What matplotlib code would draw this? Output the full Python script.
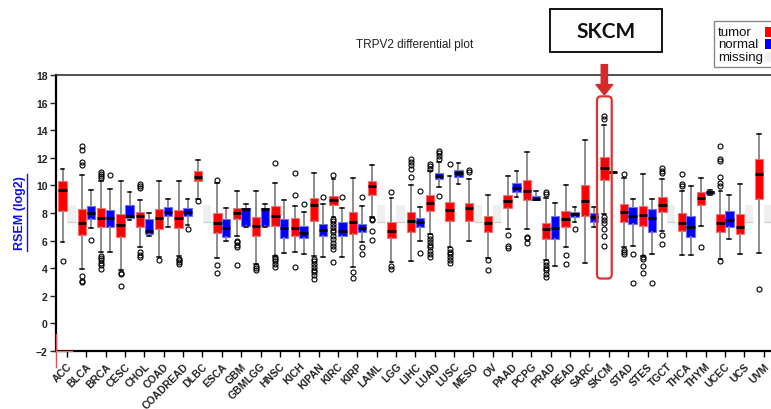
import numpy as np
import matplotlib
matplotlib.use('Agg')
import matplotlib.pyplot as plt
from matplotlib.patches import Rectangle, FancyBboxPatch
from matplotlib.lines import Line2D

plt.rcParams['font.family'] = ['Liberation Sans', 'DejaVu Sans']

cancers = ['ACC', 'BLCA', 'BRCA', 'CESC', 'CHOL', 'COAD', 'COADREAD', 'DLBC', 'ESCA',
           'GBM', 'GBMLGG', 'HNSC', 'KICH', 'KIPAN', 'KIRC', 'KIRP', 'LAML', 'LGG',
           'LIHC', 'LUAD', 'LUSC', 'MESO', 'OV', 'PAAD', 'PCPG', 'PRAD', 'READ', 'SARC',
           'SKCM', 'STAD', 'STES', 'TGCT', 'THCA', 'THYM', 'UCEC', 'UCS', 'UVM']

# tumor boxes (RSEM log2)
tumor_q1 = [8.17, 6.40, 6.96, 6.24, 6.96, 6.84, 6.89, 10.29, 6.52, 7.56, 6.30, 7.03, 6.35,
            7.40, 8.58, 6.48, 9.30, 6.16, 6.60, 8.17, 7.44, 7.44, 6.60, 8.33, 8.96, 6.11,
            6.96, 7.80, 10.41, 7.37, 7.08, 8.09, 6.72, 8.58, 6.60, 6.48, 9.01]
tumor_med = [9.69, 7.25, 7.61, 7.13, 7.76, 7.66, 7.64, 10.58, 7.25, 7.97, 7.03, 7.76, 6.94,
             8.58, 8.94, 7.32, 9.93, 6.72, 7.39, 8.75, 8.20, 8.33, 7.25, 8.89, 9.61, 6.84,
             7.56, 8.89, 11.26, 8.04, 7.85, 8.58, 7.27, 9.06, 7.25, 6.96, 10.83]
tumor_q3 = [10.30, 8.29, 8.34, 7.93, 8.04, 8.29, 8.24, 11.06, 7.97, 8.34, 7.68, 8.48, 7.66,
            9.11, 9.26, 8.09, 10.34, 7.32, 8.04, 9.28, 8.82, 8.70, 7.80, 9.30, 10.39, 7.27,
            8.17, 10.05, 12.08, 8.65, 8.53, 9.13, 7.97, 9.49, 7.90, 7.90, 11.91]
tumor_lo = [5.87, 3.92, 5.15, 3.90, 5.50, 4.78, 4.86, 9.00, 4.71, 6.35, 4.30, 4.90, 5.20,
            4.86, 7.68, 4.06, 7.68, 4.42, 4.50, 6.48, 5.51, 6.00, 4.71, 6.84, 6.84, 4.62,
            5.51, 4.37, 7.90, 5.52, 4.90, 6.72, 4.98, 7.06, 4.67, 5.02, 5.09]
tumor_hi = [11.20, 10.78, 10.30, 10.31, 8.92, 10.31, 10.31, 11.86, 10.20, 9.62, 9.62, 10.17,
            8.48, 10.87, 10.46, 10.50, 11.47, 9.06, 10.03, 11.05, 10.65, 10.46, 9.33, 10.70,
            12.39, 9.06, 10.02, 13.31, 14.37, 10.50, 10.80, 10.46, 9.62, 10.52, 9.62, 10.12,
            13.72]
tumor_out = [[4.52],
             [12.83, 12.59, 11.70, 11.47, 3.40, 3.10, 2.98],
             [10.97, 10.85, 10.70, 10.50, 4.90, 4.75, 4.60, 4.40, 4.20, 3.95],
             [3.65, 3.55, 2.73],
             [10.10, 9.98, 9.78, 5.15, 4.95, 4.80],
             [4.57],
             [4.70, 4.57, 4.43, 4.30],
             [8.87],
             [10.39, 4.25, 3.65],
             [6.00, 5.87, 5.70, 5.54, 4.25],
             [4.18, 4.00, 3.90],
             [11.60, 4.80, 4.65, 4.50, 4.30, 4.10],
             [10.90, 9.30, 4.06],
             [4.67, 4.50, 4.30, 4.10, 3.90, 3.70, 3.50, 3.20],
             [10.72, 7.55, 7.40, 7.20, 7.00, 6.80, 6.60, 6.35, 6.10, 5.85, 5.60, 5.40, 4.43],
             [3.72, 3.27],
             [7.60, 7.50, 6.72, 6.07],
             [9.50, 4.18, 3.94],
             [11.90, 11.70, 11.45, 11.20, 10.60],
             [11.55, 11.38, 11.20, 6.35, 6.10, 5.90, 5.70, 5.50, 5.25, 5.00, 4.80],
             [11.52, 5.40, 5.20, 5.00, 4.80, 4.60, 4.37],
             [11.10, 11.00],
             [4.62, 3.89],
             [6.43, 5.60, 5.47],
             [6.29, 6.16, 5.82],
             [9.54, 9.35, 4.45, 4.25, 4.05, 3.85, 3.60, 3.35],
             [4.98, 4.30],
             [],
             [15.05, 14.81, 7.69, 7.49, 7.28, 6.84, 6.31, 5.63],
             [10.80, 5.35, 5.20, 5.05],
             [4.78, 4.66, 4.18, 3.62],
             [11.23, 11.06, 10.90, 6.40, 5.75],
             [10.83, 10.10, 9.98],
             [5.51],
             [12.85, 11.90, 11.74, 10.63, 10.20, 9.96, 4.55],
             [],
             [2.47]]

# normal boxes, None = missing
normal_q1 = [None, 7.60, 6.96, 7.64, 6.48, 7.80, 7.80, None, 6.24, 7.03, 7.03, 6.16, 6.16,
             6.30, 6.33, 6.60, None, None, 6.96, 10.44, 10.58, None, None, 9.54, 8.94, 6.11,
             7.68, 7.32, 10.95, 7.20, 6.65, None, 6.26, 9.40, 6.96, None, None]
normal_med = [None, 7.97, 7.61, 7.80, 6.72, 8.10, 8.10, None, 6.88, 8.29, 8.29, 6.88, 6.55,
              6.77, 6.72, 6.88, None, None, 7.32, 10.68, 10.90, None, None, 9.81, 9.00, 6.89,
              7.90, 7.73, 10.95, 7.80, 7.61, None, 6.96, 9.50, 7.46, None, None]
normal_q3 = [None, 8.53, 8.24, 8.58, 7.56, 8.40, 8.34, None, 7.56, 8.34, 8.34, 7.56, 7.03,
             7.22, 7.33, 7.20, None, None, 7.61, 10.87, 11.11, None, None, 10.14, 9.25, 7.75,
             8.04, 8.00, 10.95, 8.42, 8.32, None, 7.77, 9.58, 8.13, None, None]
normal_lo = [None, 6.90, 5.20, 7.50, 6.30, 6.96, 7.13, None, 6.00, 7.00, 7.00, 5.10, 5.03,
             4.83, 4.83, 5.87, None, None, 6.00, 9.90, 10.10, None, None, 9.18, 8.94, 4.13,
             7.37, 6.96, 10.95, 5.59, 5.02, None, 4.98, 9.30, 6.11, None, None]
normal_hi = [None, 9.66, 9.74, 9.50, 7.97, 9.00, 9.00, None, 8.38, 8.63, 8.63, 8.97, 8.04,
             8.65, 8.35, 8.53, None, None, 8.40, 11.68, 11.60, None, None, 11.07, 9.61, 8.72,
             8.46, 8.46, 10.95, 9.01, 9.00, None, 9.93, 9.69, 9.30, None, None]
normal_out = [[], [6.02], [10.75], [], [], [], [6.84], [], [], [], [], [], [8.63],
              [9.13], [9.18], [9.13, 5.50, 5.02], [], [], [9.60, 5.10],
              [12.51, 12.34, 12.15, 11.92, 9.21], [], [], [], [], [], [], [6.84], [], [],
              [5.05, 2.93], [2.93], [], [], [], [], [], []]

highlight = 'SKCM'
legend_labels = ['tumor', 'normal', 'missing']

# placeholder box drawn where normal samples are missing
MISSING_LO, MISSING_HI = 7.38, 8.60

RED, BLUE, GREY = '#ff0000', '#0000ff', '#efefef'
px_per_cat = 19.35
off, bw = 0.23, 0.43

fig = plt.figure(figsize=(7.71, 4.10), dpi=100)
ax = fig.add_axes([56 / 771, 1 - 352 / 410, 715 / 771, 276 / 410])

pos = np.arange(len(cancers))

tumor_stats = [dict(q1=a, med=b, q3=c, whislo=d, whishi=e, fliers=f)
               for a, b, c, d, e, f in zip(tumor_q1, tumor_med, tumor_q3, tumor_lo,
                                           tumor_hi, tumor_out)]
have = [i for i in range(len(cancers)) if normal_q1[i] is not None]
miss = [i for i in range(len(cancers)) if normal_q1[i] is None]
normal_stats = [dict(q1=normal_q1[i], med=normal_med[i], q3=normal_q3[i],
                     whislo=normal_lo[i], whishi=normal_hi[i], fliers=normal_out[i])
                for i in have]
missing_stats = [dict(q1=MISSING_LO, med=MISSING_LO, q3=MISSING_HI,
                      whislo=MISSING_LO, whishi=MISSING_LO, fliers=[]) for i in miss]

common = dict(widths=bw, patch_artist=True, manage_ticks=False, capwidths=0.2,
              whiskerprops=dict(color='#858585', lw=1.3),
              capprops=dict(color='black', lw=1.1),
              medianprops=dict(color='black', lw=2),
              flierprops=dict(marker='o', markerfacecolor='none', markeredgecolor='black',
                              markersize=3.6, markeredgewidth=0.8))

ax.bxp(missing_stats, positions=[i + off for i in miss], widths=bw, patch_artist=True,
       manage_ticks=False, showcaps=False, showfliers=False,
       boxprops=dict(facecolor=GREY, edgecolor='none'),
       whiskerprops=dict(color='none'),
       medianprops=dict(color='#cfcfcf', lw=1), zorder=1)
ax.bxp(tumor_stats, positions=pos - off,
       boxprops=dict(facecolor=RED, edgecolor='#ff7070', lw=0.8), zorder=3, **common)
ax.bxp(normal_stats, positions=[i + off for i in have],
       boxprops=dict(facecolor=BLUE, edgecolor='#7070ff', lw=0.8), zorder=3, **common)

ax.set_xlim(-11 / px_per_cat, (771 - 67) / px_per_cat)
ax.set_ylim(-2, 18)
ax.set_yticks(np.arange(-2, 19, 2))
ax.set_xticks(pos)
ax.set_xticklabels(cancers, rotation=45, ha='right', rotation_mode='anchor',
                   fontsize=7.5, fontweight='bold', color='#222222')
ax.tick_params(axis='y', labelsize=7.5, length=4, width=1, pad=2, colors='#222222')
ax.tick_params(axis='x', length=4, width=1, pad=3)
for lab in ax.get_yticklabels():
    lab.set_fontweight('bold')
ax.spines['right'].set_visible(False)
ax.spines['left'].set_linewidth(1.6)
ax.spines['bottom'].set_linewidth(1.6)
ax.spines['top'].set_linewidth(1.2)
ax.spines['top'].set_color('#333333')

fig.text(415 / 771, 1 - 45 / 410, 'TRPV2 differential plot', ha='center', va='center',
         fontsize=8.5, color='#222222')

# y label, blue and underlined
fig.text(20 / 771, 1 - 213 / 410, 'RSEM (log2)', rotation=90, ha='center', va='center',
         fontsize=9, fontweight='bold', color='#1010f0')
fig.add_artist(Line2D([27 / 771, 27 / 771], [1 - 175 / 410, 1 - 252 / 410],
                      color='#1010f0', lw=1))

# highlight of the SKCM column
k = cancers.index(highlight)
hx = k - off
ax.add_patch(FancyBboxPatch((hx - 0.38, 3.25), 0.76, 13.2,
                            boxstyle='round,pad=0,rounding_size=0.2',
                            mutation_aspect=px_per_cat / 13.8,
                            fc='none', ec='#e03030', lw=1.6, zorder=5, clip_on=False))
ax.annotate('', xy=(hx, 16.55), xytext=(hx, 18.75), annotation_clip=False,
            arrowprops=dict(arrowstyle='simple,head_length=0.75,head_width=1.2,tail_width=0.45',
                            color='#d42a2a', mutation_scale=10, shrinkA=0, shrinkB=0))
fig.add_artist(Rectangle((550 / 771, 1 - 53 / 410), 112 / 771, 43 / 410,
                         transform=fig.transFigure, fc='white', ec='black', lw=1.3))
fig.text(606 / 771, 1 - 32 / 410, highlight, ha='center', va='center', fontsize=15,
         fontweight='bold', family=['Lato', 'DejaVu Sans'], color='#111111')

# red marks at bottom-left corner
fig.add_artist(Line2D([56 / 771, 56 / 771], [1 - 335 / 410, 1 - 368 / 410],
                      color='#e05050', lw=1))
fig.add_artist(Line2D([56 / 771, 72 / 771], [1 - 352 / 410, 1 - 352 / 410],
                      color='#e07070', lw=1))

# legend box (partly cut by the right edge of the picture)
fig.add_artist(Rectangle((714 / 771, 1 - 68 / 410), 80 / 771, 46 / 410,
                         transform=fig.transFigure, fc='white', ec='#888888', lw=1))
for j, (lab, col) in enumerate(zip(legend_labels, [RED, BLUE, GREY])):
    yc = 33 + 12.3 * j
    fig.text(718 / 771, 1 - yc / 410, lab, ha='left', va='center', fontsize=9.5,
             color='#111111')
    fig.add_artist(Rectangle((765 / 771, 1 - (yc + 5) / 410), 10 / 771, 10 / 410,
                             transform=fig.transFigure, fc=col, ec='none'))

fig.savefig('out.png', dpi=100)
